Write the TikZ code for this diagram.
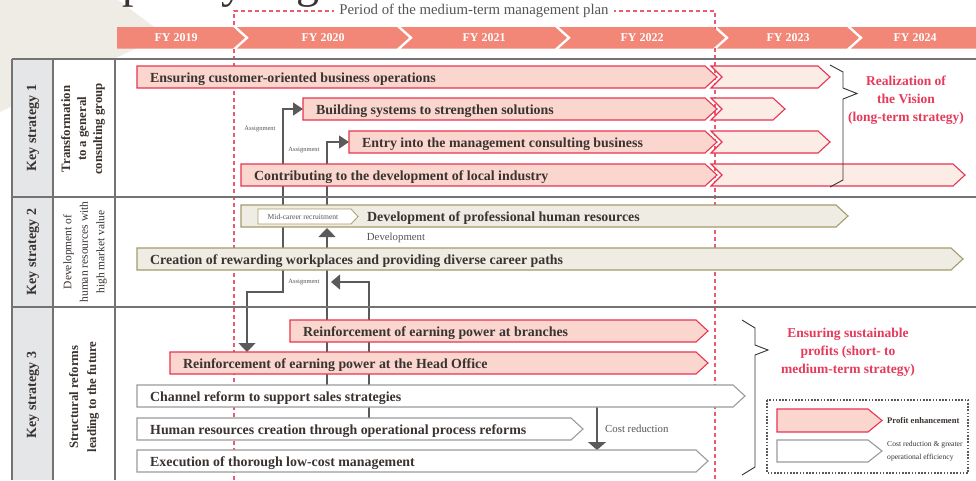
\documentclass[tikz,border=0pt]{standalone}
\usepackage{fontspec}
\setmainfont{Liberation Serif}
\usetikzlibrary{arrows.meta}

\definecolor{bannerc}{HTML}{F28677}
\definecolor{redline}{HTML}{E8344F}
\definecolor{pinkA}{HTML}{FAD6CE}
\definecolor{pinkB}{HTML}{FCECE6}
\definecolor{beigefill}{HTML}{EFECE4}
\definecolor{olive}{HTML}{A39C6C}
\definecolor{grayline}{HTML}{9B9B9B}
\definecolor{tablec}{HTML}{737373}
\definecolor{colgray}{HTML}{E5E6E8}
\definecolor{txt}{HTML}{3A3330}
\definecolor{redtxt}{HTML}{E53A5A}
\definecolor{perc}{HTML}{EC5A70}
\definecolor{bgbeige}{HTML}{EEECE4}
\definecolor{lbl}{HTML}{555555}
\definecolor{connc}{HTML}{5A5A5A}

\pgfdeclarelayer{base}
\pgfdeclarelayer{back}
\pgfsetlayers{base,back,main}

\tikzset{
  barpink/.style={fill=pinkA,draw=redline,line width=1.1pt},
  barlight/.style={fill=pinkB,draw=redline,line width=1.1pt},
  barbeige/.style={fill=beigefill,draw=olive,line width=1.1pt},
  barwhite/.style={fill=white,draw=grayline,line width=1.1pt},
  bartxt/.style={font=\bfseries\fontsize{13.9}{16}\selectfont,text=txt,inner sep=0pt},
  smalllbl/.style={font=\fontsize{6.5}{7}\selectfont,text=lbl,inner sep=0pt},
  midlbl/.style={font=\fontsize{10.8}{12}\selectfont,text=lbl,inner sep=0pt},
  conn/.style={draw=connc,line width=1.3pt},
  yeartxt/.style={font=\bfseries\fontsize{12}{13}\selectfont,text=white,inner sep=0pt},
  redlbl/.style={font=\bfseries\fontsize{13.5}{18}\selectfont,text=redtxt,align=center,inner sep=0pt},
  bracel/.style={draw=black!80,line width=0.9pt},
  tline/.style={draw=tablec,line width=1.4pt},
  keytxt/.style={font=\bfseries\fontsize{14}{16}\selectfont,text=txt,rotate=90,inner sep=0pt},
  themetxt/.style={font=\bfseries\fontsize{12.8}{16}\selectfont,text=txt,rotate=90,align=center,inner sep=0pt},
  themetxtr/.style={font=\fontsize{11.5}{16.5}\selectfont,text=txt,rotate=90,align=center,inner sep=0pt},
  tipR/.tip={Triangle[length=10pt,width=13pt]},
  tipV/.tip={Triangle[length=9pt,width=17pt]},
}

% bar with a pointed right end: name, left x, tip x, top y, style, label
\newcommand\chevbar[6]{%
  \path[#5] (#2,#4) -- ({#3-12},#4) -- (#3,{#4+11}) -- ({#3-12},{#4+22}) -- (#2,{#4+22}) -- cycle;
  \coordinate (#1-w) at (#2,{#4+11});
  \node[bartxt,anchor=base west] (#1) at ({#2+13},{#4+16}) {#6};
}
% long-term bar: plan part up to FY2022 plus a lighter continuation
\newcommand\twobar[5]{%
  \path[barlight] (711,#4) -- ({#3-12},#4) -- (#3,{#4+11}) -- ({#3-12},{#4+22}) -- (711,{#4+22}) -- (722,{#4+11}) -- cycle;
  \chevbar{#1}{#2}{717}{#4}{barpink}{#5}
}
% year banner segment with notch: left x, right corner x, label
\newcommand\yearseg[3]{%
  \fill[bannerc] (#1,27) -- (#2,27) -- ({#2+12},37.75) -- (#2,48.5) -- (#1,48.5) -- ({#1+12},37.75) -- cycle;
  \node[yeartxt] at ({(#1+#2+12)/2},37.75) {#3};
}

\begin{document}
\begin{tikzpicture}[x=1pt,y=-1pt]
\useasboundingbox (0,0) rectangle (976,480);
\clip (0,0) rectangle (976,480);

% background decoration, table ground
\begin{pgfonlayer}{base}
  \fill[bgbeige] (0,0) -- (118,0) -- (165,35) -- (0,112) -- cycle;
  \fill[white] (12,59) rectangle (976,480);
  \fill[colgray] (12,59) rectangle (53,480);
\end{pgfonlayer}

% heading
\begin{scope}[font=\fontsize{46}{46}\selectfont,text=txt]
  \node[anchor=base west,inner sep=0] (hp) at (122,-3) {p};
  \node[anchor=base west,inner sep=0] (hy) at (221,-3) {y};
  \node[anchor=base west,inner sep=0] (hg) at (296,-3) {g};
\end{scope}

% period of the medium-term plan
\begin{pgfonlayer}{back}
  \draw[perc,line width=1.1pt,dash pattern=on 4pt off 3pt] (234,480) -- (234,11) -- (715,11) -- (715,480);
\end{pgfonlayer}
\node[fill=white,inner xsep=5pt,inner ysep=1pt,font=\fontsize{14.8}{16}\selectfont,text=lbl] (period) at (474,11) {Period of the medium-term management plan};

% year banner
\fill[bannerc] (117,27) -- (233,27) -- (245,37.75) -- (233,48.5) -- (117,48.5) -- cycle;
\node[yeartxt] (y19) at (176,37.75) {FY 2019};
\yearseg{237}{397}{FY 2020}
\yearseg{401}{555}{FY 2021}
\yearseg{559}{713}{FY 2022}
\yearseg{717}{847}{FY 2023}
\fill[bannerc] (851,27) -- (976,27) -- (976,48.5) -- (851,48.5) -- (863,37.75) -- cycle;
\node[yeartxt] (y24) at (915,37.75) {FY 2024};

% table frame
\draw[tline] (12,59) -- (976,59);
\draw[tline] (12,197) -- (976,197);
\draw[tline] (12,307) -- (976,307);
\draw[tline] (12,59) -- (12,480);
\draw[tline] (53,59) -- (53,480);
\draw[tline] (115,59) -- (115,480);

\node[keytxt] (k1) at (33,128) {Key strategy 1};
\node[keytxt] (k2) at (33,252) {Key strategy 2};
\node[keytxt] (k3) at (33,395) {Key strategy 3};
\node[themetxt] (t1) at (83,129) {Transformation\\to a general\\consulting group};
\node[themetxtr] (t2) at (85,252) {Development of\\human resources with\\high market value};
\node[themetxt,font=\bfseries\fontsize{12.8}{18}\selectfont] (t3) at (84,397) {Structural reforms\\leading to the future};

% key strategy 1
\twobar{cust}{137}{830}{66}{Ensuring customer-oriented business operations}
\twobar{bsys}{303}{785}{98}{Building systems to strengthen solutions}
\twobar{entry}{349}{830}{131}{Entry into the management consulting business}
\twobar{local}{241}{965}{164}{Contributing to the development of local industry}

\draw[bracel] (830,65) -- (843,72) -- (843,88) -- (857,93.5) -- (843,99) -- (843,180) -- (830,187);
\node[redlbl] (vision) at (906,100) {Realization of\\the Vision\\(long-term strategy)};

% key strategy 2
\chevbar{devpro}{241}{848}{205}{barbeige}{}
\node[bartxt,anchor=base west] (devprot) at (367,221) {Development of professional human resources};
\path[fill=white,draw=olive,line width=0.8pt] (258,209) -- (351,209) -- (358,216.5) -- (351,224) -- (258,224) -- cycle;
\node[smalllbl,font=\fontsize{7.6}{8}\selectfont] (midc) at (303,216.5) {Mid-career recruitment};
\chevbar{create}{137}{963}{248}{barbeige}{Creation of rewarding workplaces and providing diverse career paths}

% key strategy 3
\chevbar{branch}{290}{708}{320}{barpink}{Reinforcement of earning power at branches}
\chevbar{hoff}{170}{708}{352}{barpink}{Reinforcement of earning power at the Head Office}
\chevbar{chan}{137}{745}{385}{barwhite}{Channel reform to support sales strategies}
\chevbar{hrc}{137}{583}{418}{barwhite}{Human resources creation through operational process reforms}
\chevbar{exec}{137}{708}{450}{barwhite}{Execution of thorough low-cost management}

\draw[bracel] (742,320) -- (755,328) -- (755,345) -- (768,350) -- (755,355) -- (755,467) -- (742,475);
\node[redlbl] (profit) at (848,352) {Ensuring sustainable\\profits (short- to\\medium-term strategy)};

% legend
\draw[black!65,line width=1.2pt,dash pattern=on 1.6pt off 1.6pt] (767,400) rectangle (968,473);
\path[barpink] (777,409) -- (868,409) -- (882,420.5) -- (868,432) -- (777,432) -- cycle;
\node[font=\bfseries\fontsize{8.6}{9}\selectfont,text=txt,anchor=west,inner sep=0] (lg1) at (887,420.5) {Profit enhancement};
\path[barwhite] (777,440) -- (868,440) -- (882,451) -- (868,462) -- (777,462) -- cycle;
\node[font=\fontsize{7.6}{13}\selectfont,text=txt,anchor=west,align=left,inner sep=0] (lg2) at (887,451) {Cost reduction \& greater\\operational efficiency};

% connectors between the strategies (drawn beneath the bars)
\coordinate (hoff-in) at (247,352);
\coordinate (dev-up) at (327,228);
\coordinate (dev-top) at (327,205);
\coordinate (chan-src) at (327,396);
\coordinate (hrc-src) at (369,429);
\coordinate (asg-in) at (331,282);
\coordinate (cost-src) at (597,407);
\coordinate (exec-in) at (597,450);
\begin{pgfonlayer}{back}
  \draw[conn,tipR-tipV] (bsys-w) -| (283,292) -| (hoff-in);
  \draw[conn,tipR-] (entry-w) -| (dev-top);
  \draw[conn,-tipV] (chan-src) -- (dev-up);
  \draw[conn,-{Triangle[length=9pt,width=15pt]}] (hrc-src) |- (asg-in);
  \draw[conn,-{Triangle[length=8pt,width=18pt]}] (cost-src) -- (exec-in);
\end{pgfonlayer}
\node[smalllbl] (asg1) at (260,129) {Assignment};
\node[smalllbl] (asg2) at (304,150) {Assignment};
\node[smalllbl] (asg3) at (304,282) {Assignment};
\node[midlbl] (devl) at (396,238) {Development};
\node[midlbl,anchor=west] (costl) at (605,429) {Cost reduction};
\end{tikzpicture}
\end{document}
